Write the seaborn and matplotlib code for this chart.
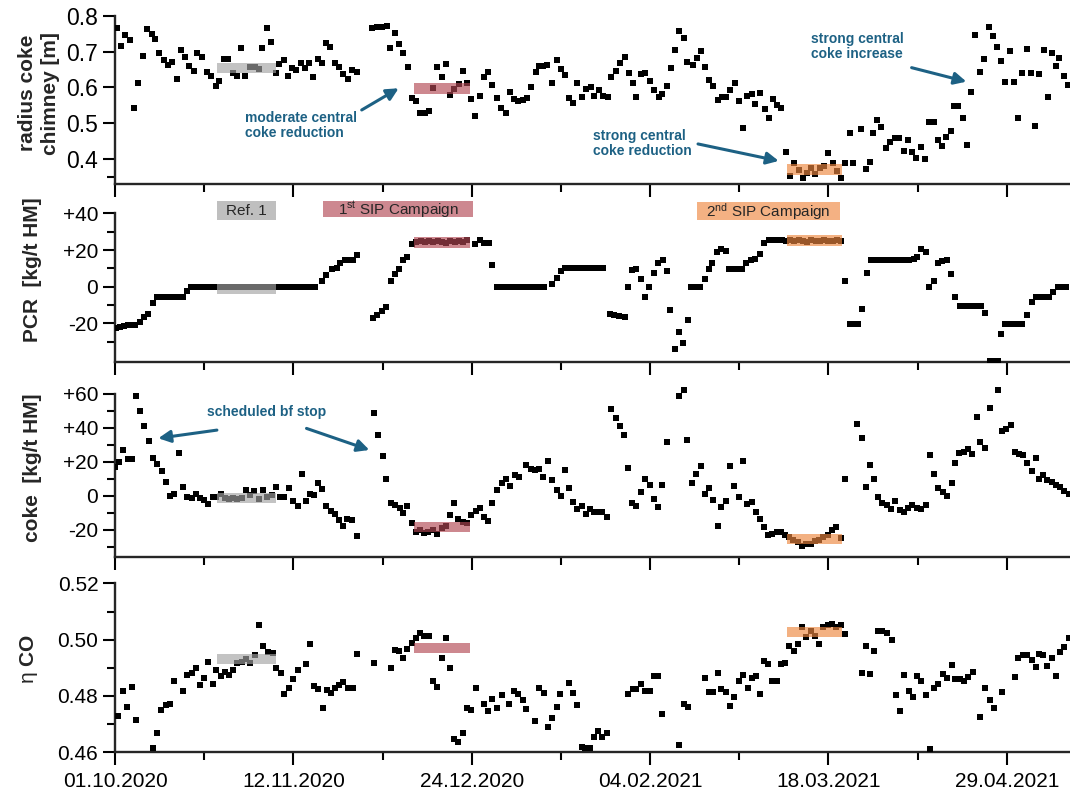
import numpy as np
import pandas as pd
import matplotlib
matplotlib.use("Agg")
import matplotlib.pyplot as plt
import matplotlib.dates as mdates
from matplotlib.patches import Rectangle
from matplotlib.ticker import FixedLocator, FuncFormatter
import seaborn as sns

START = pd.Timestamp("2020-10-01")

# (day since 01.10.2020, value) pairs, one per daily mean
RADIUS = [
    (0.4, .765), (1.5, .716), (2.4, .746), (3.5, .732), (4.5, .542), (5.5, .613), (6.5, .688), (7.5, .762),
    (8.6, .748), (9.5, .734), (10.4, .695), (11.5, .677), (12.5, .663), (13.5, .672), (14.5, .624), (15.5, .704),
    (16.5, .686), (17.5, .660), (18.6, .646), (19.4, .695), (20.6, .684), (21.6, .644), (22.6, .632), (23.7, .604),
    (24.6, .619), (25.7, .678), (26.7, .678), (27.7, .639), (28.7, .632), (29.6, .709), (30.7, .632), (31.8, .658),
    (32.9, .656), (33.8, .651), (34.7, .709), (35.7, .765), (36.7, .728), (37.8, .641), (38.7, .665), (39.7, .677),
    (40.7, .632), (41.7, .653), (42.7, .649), (43.7, .667), (44.7, .653), (45.7, .669), (46.7, .630), (47.7, .678),
    (48.7, .667), (49.8, .725), (50.7, .714), (51.8, .669), (52.8, .656), (53.8, .638), (54.8, .623), (55.9, .649),
    (56.9, .644),
    (60.6, .766), (61.7, .768), (62.9, .769), (64.0, .772), (64.8, .709), (65.9, .751), (66.9, .721), (67.9, .695),
    (68.9, .658), (69.9, .570), (70.9, .561), (71.9, .528), (73.0, .530), (74.0, .535), (74.9, .598), (75.9, .658),
    (76.9, .630), (77.9, .665), (78.9, .579), (79.9, .595), (81.0, .609), (82.0, .647), (82.9, .612), (83.8, .567),
    (84.8, .521), (85.9, .576), (86.9, .628), (87.9, .644), (88.9, .607), (90.0, .570), (90.9, .542), (92.0, .528),
    (93.0, .588), (94.0, .567), (95.0, .561), (96.1, .565), (97.1, .570), (98.0, .602), (99.1, .644), (99.9, .660),
    (100.9, .660), (101.8, .662), (103.0, .613), (104.0, .677), (105.0, .651), (106.0, .635), (106.9, .570),
    (107.9, .558), (108.9, .613), (109.9, .573), (110.9, .595), (112.0, .602), (112.9, .576), (113.9, .593),
    (114.9, .576), (116.0, .573), (116.9, .628), (118.0, .647), (119.0, .667), (120.0, .686), (121.0, .639),
    (121.9, .613), (122.8, .573), (123.8, .638), (124.9, .639), (125.9, .619), (126.9, .593), (128.0, .574),
    (128.9, .581), (130.0, .604), (131.0, .655), (131.9, .704), (132.9, .757), (134.0, .739), (134.8, .672),
    (136.0, .663), (137.0, .681), (137.9, .702), (138.9, .658), (139.9, .621), (140.9, .604), (141.9, .565),
    (143.0, .574), (144.0, .573), (144.9, .593), (146.0, .613), (146.9, .563), (148.0, .486), (148.8, .576),
    (149.9, .581), (150.8, .554), (151.9, .584), (153.0, .539), (153.9, .516), (154.9, .567), (155.9, .551),
    (156.9, .542), (158.0, .421), (159.0, .354), (160.0, .389), (161.0, .370), (162.0, .347), (163.0, .361),
    (164.0, .375), (164.8, .359), (166.0, .375), (167.0, .382), (167.9, .416), (169.0, .389), (170.1, .366),
    (171.0, .347), (172.0, .389), (173.0, .472), (173.9, .389), (175.7, .484), (176.8, .372), (177.7, .391),
    (178.5, .472), (179.5, .508), (180.5, .489), (181.6, .432), (182.6, .449), (183.6, .458), (184.7, .458),
    (185.7, .424), (186.7, .455), (187.7, .419), (188.6, .403), (189.7, .435), (190.8, .400), (191.6, .505),
    (192.8, .505), (193.8, .454), (194.8, .437), (195.8, .463), (196.8, .480), (197.6, .547), (198.6, .548),
    (199.6, .516), (200.7, .440), (201.7, .586), (202.6, .746), (203.7, .644), (204.7, .678), (205.8, .769),
    (206.8, .743), (207.6, .714), (208.6, .675), (209.6, .616), (210.8, .703), (211.7, .616), (212.6, .514),
    (213.7, .641), (214.7, .706), (215.7, .639), (216.7, .493), (217.7, .638), (218.7, .704), (219.8, .574),
    (220.7, .697), (221.5, .660), (222.4, .681), (223.5, .632), (224.4, .607),
]

PCR = [
    (0.3, -22.5), (1.2, -22.0), (2.1, -21.3), (3.0, -20.9), (3.9, -20.7), (4.8, -20.9), (5.9, -19.1), (6.8, -16.7),
    (7.8, -14.9), (9.0, -8.7), (10, -5.5), (11, -5.5), (12, -5.5), (13, -5.5), (14, -5.5), (15, -5.5), (16, -5.5),
    (17.0, -2.4), (18, 0), (19, 0), (20, 0), (21, 0), (22, 0), (23, 0), (24, 0), (25, 0), (26, 0), (27, 0), (28, 0),
    (29, 0), (30, 0), (31, 0), (32, 0), (33, 0), (34, 0), (35, 0), (36, 0), (37, 0), (38, 0), (39, 0), (40, 0),
    (41, 0), (42, 0), (43, 0), (44, 0), (45, 0), (46, 0), (47, 0),
    (48.7, 3.3), (49.8, 6.4), (51.0, 9.6), (52.2, 10.0), (53.0, 13.1), (54.2, 14.5), (55.2, 14.5), (56.1, 14.5),
    (57.1, 17.3),
    (60.8, -17.3), (61.8, -15.5), (62.8, -13.3), (63.8, -11.3), (64.9, 3.3), (65.9, 6.9), (66.9, 9.5), (67.9, 14.5),
    (68.8, 16.0), (69.9, 23.3), (71, 24.5), (72, 25.0), (73, 24.5), (74, 25.0), (75, 24.2), (76, 25.0), (77, 24.5),
    (78, 24.0), (79, 25.0), (80, 24.2), (81, 25.0), (82, 24.5), (83, 25.5), (84.8, 23.3), (86.0, 25.5), (87.0, 24.0),
    (88.0, 24.0), (88.9, 11.8),
    (90, 0), (91, 0), (92, 0), (93, 0), (94, 0), (95, 0), (96, 0), (97, 0), (98, 0), (99, 0), (100, 0), (101, 0),
    (102.9, 1.5), (104.0, 4.5), (105.0, 8.7), (106, 10.0), (107, 10.0), (108, 10.0), (109, 10.0), (110, 10.0),
    (111, 10.0), (112, 10.0), (113, 10.0), (114, 10.0), (115, 10.0),
    (116.6, -15.1), (117.6, -15.5), (118.8, -16.0), (120.0, -16.4), (120.7, 0.0), (121.7, 9.1), (122.8, 9.5),
    (123.9, 4.2), (124.8, -5.5), (125.8, -0.4), (126.9, 7.3), (127.9, 12.7), (129.0, 14.5), (130.0, 8.7),
    (130.8, -12.7), (131.9, -34.2), (132.9, -24.5), (133.8, -30.5), (134.9, -18.2), (135.7, 0), (136.8, 0),
    (137.8, 0), (138.9, 4.4), (139.9, 9.5), (140.7, 13.1), (141.8, 19.1), (142.8, 20.4), (143.8, 19.6),
    (144.7, 9.5), (145.7, 9.5), (146.7, 9.5), (147.7, 9.5), (148.7, 13.1), (149.8, 14.5), (150.8, 14.9),
    (151.9, 17.8), (152.9, 23.6), (154, 25.5), (155, 25.5), (156, 25.5), (157, 25.5),
    (158, 25.0), (159, 25.5), (160, 24.8), (161, 25.2), (162, 25.0), (163, 24.6), (164, 25.3), (165, 25.0),
    (166, 24.8), (167, 25.4), (168, 25.0), (169, 24.7), (170, 25.2), (171, 25.0),
    (172.0, 3.1), (173.0, -20.4), (174.0, -20.4), (175.0, -20.4), (175.8, -12.4), (177.0, 7.6),
    (178, 14.5), (179, 14.5), (180, 14.5), (181, 14.5), (182, 14.5), (183, 14.5), (184, 14.5), (185, 14.5),
    (186, 14.5), (187, 14.5), (188.2, 15.2), (188.9, 16.4), (189.9, 20.4), (191.0, 19.1), (191.8, 0.0),
    (192.9, 3.3), (193.8, 12.7), (194.8, 14.2), (195.9, 14.5), (196.9, 6.7), (197.9, -5.5), (199, -10.5),
    (200, -10.5), (201, -10.5), (202, -10.5), (203, -10.5), (204, -10.5), (204.9, -14.5), (206, -40.4),
    (207, -40.4), (208, -40.4), (208.7, -25.5), (209.7, -20.4), (210.7, -20.4), (211.7, -20.4), (212.7, -20.4),
    (213.7, -20.4), (214.8, -15.5), (215.9, -8.2), (217, -5.5), (218, -5.5), (219, -5.5), (220, -5.5),
    (221.0, -2.7), (222, 0), (223, 0), (224, 0),
]

COKE = [
    (0.0, 16.6), (1.0, 19.9), (2.0, 27.1), (3.0, 21.5), (4.1, 21.5), (4.9, 58.9), (5.9, 49.6), (6.9, 40.8),
    (8.0, 32.0), (9.0, 22.4), (10.0, 18.9), (11.0, 14.6), (11.9, 8.2), (13.0, 0.0), (13.9, 0.8), (15.0, 25.4),
    (15.9, 5.3), (17.0, -0.6), (18.1, -1.2), (19.0, 0.8), (19.9, -1.2), (21.0, -2.5), (22.0, -4.9), (23.0, -0.6),
    (23.9, -0.6), (24.9, 0.8), (25.9, -1.2), (26.9, -2.1), (27.9, -1.2), (28.8, -2.1), (29.8, -1.2), (30.8, 3.3),
    (31.8, 0.4), (32.8, 2.7), (33.8, -2.1), (34.8, 3.3), (35.7, -0.6), (36.9, 0.4), (37.9, 5.3), (38.9, -0.6),
    (39.9, -0.6), (40.9, 4.7), (42.0, -3.1), (43.0, -5.9), (44.0, 12.7), (45.0, -3.1), (45.9, 0.8), (46.9, 0.4),
    (47.9, 7.6), (48.8, 3.7), (49.8, -6.0), (50.9, -8.8), (51.8, -10.9), (52.8, -14.6), (53.8, -18.1),
    (54.7, -13.9), (55.9, -14.6), (56.9, -23.6),
    (61.0, 48.8), (62.0, 35.5), (63.0, 23.2), (63.8, 10.1), (64.9, -4.5), (65.9, -5.5), (67.0, -7.4),
    (67.9, -10.3), (68.8, -6.0), (70.0, -16.2), (70.9, -21.1), (71.8, -20.1), (72.8, -22.0), (73.8, -21.1),
    (74.8, -20.1), (75.9, -22.4), (76.9, -19.1), (77.9, -18.1), (78.9, -11.3), (79.9, -4.1), (80.8, -13.9),
    (81.9, -15.2), (82.8, -16.2), (83.8, -11.3), (84.9, -8.8), (86.0, -7.4), (86.9, -12.7), (87.9, -14.8),
    (88.9, -4.1), (90.0, 3.3), (91.1, 7.6), (92.0, 9.8), (93.0, 5.7), (94.2, 12.1), (95.2, 11.1),
    (96.9, 18.0), (97.9, 16.0), (98.9, 15.0), (99.9, 16.0), (100.8, 11.1), (101.9, 20.3), (103.0, 9.2),
    (104.0, 3.3), (105.0, -0.2), (105.9, 15.4), (106.9, 4.7), (107.9, -3.9), (108.9, -7.8), (109.9, -5.9),
    (110.9, -10.7), (111.8, -7.8), (112.8, -9.4), (113.8, -9.4), (114.8, -9.4), (115.9, -12.3), (116.8, 51.1),
    (118.0, 45.7), (118.9, 40.8), (119.9, 35.5), (120.9, 16.4), (121.8, -4.1), (122.8, -5.9), (123.8, 2.3),
    (124.9, 9.6), (126.0, 6.2), (126.9, -2.1), (127.9, -6.4), (128.9, 6.2), (129.9, 31.6), (132.9, 58.9),
    (134.0, 62.2), (134.8, 32.6), (135.8, 7.6), (136.9, 12.5), (137.9, 17.4), (138.9, 1.0), (140.0, 4.7),
    (140.9, -2.5), (141.9, -18.1), (142.8, -6.8), (143.9, -3.1), (144.8, 17.6), (145.8, 5.7), (146.9, -0.6),
    (147.9, 20.3), (148.9, -4.9), (149.9, -3.9), (150.9, -9.4), (151.9, -13.9), (152.9, -18.5), (153.8, -23.4),
    (154.8, -22.4), (155.8, -21.1), (156.8, -21.1), (157.9, -23.0), (158.8, -24.4), (159.7, -26.0),
    (160.9, -27.5), (161.9, -29.5), (162.8, -28.3), (163.9, -28.3), (164.8, -26.9), (165.8, -26.0),
    (166.8, -24.4), (167.8, -23.0), (168.9, -20.1), (169.9, -18.7), (170.9, -25.0), (172.0, 9.6), (174.8, 42.0),
    (175.8, 34.1), (176.8, 4.9), (177.8, 18.0), (178.8, 9.6), (179.7, -1.0), (180.7, -4.5), (181.7, -5.5),
    (182.7, -8.0), (183.8, -2.9), (184.8, -8.4), (185.8, -9.4), (186.8, -7.4), (187.8, -5.5), (188.8, -7.4),
    (189.9, -7.8), (190.9, -5.5), (191.9, 24.2), (192.9, 12.5), (193.9, 4.7), (194.9, 2.3), (196.0, 0.0),
    (197.0, 7.2), (197.9, 19.3), (198.8, 25.4), (199.9, 25.8), (200.9, 27.7), (201.9, 24.8), (202.9, 46.6),
    (203.8, 31.6), (204.8, 28.1), (206.0, 51.7), (207.9, 62.2), (208.8, 37.9), (209.8, 39.4), (210.9, 41.8),
    (211.9, 25.8), (212.8, 24.4), (213.9, 23.8), (214.8, 19.5), (216.0, 14.6), (216.9, 21.9), (217.6, 9.6),
    (218.6, 12.0), (219.6, 9.0), (220.6, 8.0), (221.6, 6.0), (222.6, 5.0), (223.6, 3.0), (224.6, 1.0),
]

ETA_CO = [
    (0.8, .4729), (2.0, .4818), (2.9, .4761), (3.9, .4832), (4.9, .4715), (9.0, .4614), (10.0, .4668),
    (10.8, .4751), (11.9, .4768), (13.0, .4773), (13.9, .4855), (15.9, .4818), (17.0, .4873), (18.1, .4882),
    (19.0, .4900), (19.9, .4838), (21.0, .4865), (22.0, .4921), (23.0, .4841), (23.9, .4894), (24.9, .4871),
    (25.9, .4886), (26.9, .4874), (27.9, .4891), (28.8, .4918), (29.8, .4921), (30.8, .4933), (31.8, .4918),
    (33.0, .4947), (33.9, .5053), (34.9, .4976), (36.1, .4956), (37.1, .4953), (37.9, .4900), (39.0, .4882),
    (39.9, .4808), (40.9, .4827), (42.0, .4861), (43.0, .4892), (45.0, .4912), (45.9, .4985), (46.9, .4835),
    (47.9, .4826), (48.9, .4756), (50.0, .4820), (50.9, .4812), (51.8, .4827), (52.8, .4839), (53.8, .4851),
    (54.9, .4827), (56.0, .4827), (56.9, .4949), (61.0, .4918), (64.9, .4898), (65.9, .4965), (66.9, .4959),
    (67.9, .4935), (68.8, .4968), (69.9, .4988), (70.9, .5006), (71.8, .5024), (72.8, .5012), (73.9, .5012),
    (74.8, .4855), (75.9, .4832), (76.9, .4935), (77.9, .5006), (78.9, .4898), (79.9, .4649), (80.8, .4635),
    (81.9, .4667), (82.8, .4756), (83.8, .4749), (84.9, .4827), (86.9, .4771), (87.9, .4745), (88.9, .4788),
    (90.0, .4759), (91.1, .4804), (92.8, .4771), (94.0, .4816), (95.0, .4806), (96.0, .4785), (96.9, .4753),
    (98.9, .4712), (99.9, .4829), (101.0, .4812), (101.9, .4691), (103.0, .4721), (104.0, .4762), (104.9, .4808),
    (106.9, .4847), (107.9, .4812), (108.9, .4768), (109.9, .4620), (110.8, .4617), (111.8, .4614),
    (112.8, .4653), (113.8, .4676), (114.8, .4653), (115.9, .4668), (120.9, .4808), (121.9, .4824),
    (122.8, .4826), (123.9, .4841), (124.8, .4818), (126.0, .4818), (127.0, .4871), (127.9, .4871),
    (128.9, .4735), (132.9, .4626), (134.0, .4771), (135.0, .4761), (138.9, .4865), (139.9, .4815),
    (140.9, .4815), (141.9, .4882), (142.8, .4824), (143.9, .4815), (144.8, .4765), (145.8, .4796),
    (146.9, .4855), (147.9, .4874), (149.0, .4827), (149.9, .4865), (150.9, .4871), (151.9, .4808),
    (152.9, .4926), (153.8, .4912), (154.8, .4855), (155.8, .4855), (156.8, .4912), (157.9, .4918),
    (158.8, .4976), (159.9, .4961), (160.9, .4985), (161.9, .5044), (162.8, .5008), (163.9, .5032),
    (164.8, .5012), (165.8, .4985), (166.8, .5044), (167.8, .5051), (168.9, .5055), (169.9, .5044),
    (170.9, .5053), (172.0, .5020), (175.8, .4882), (176.8, .4976), (177.8, .4879), (178.8, .4961),
    (179.7, .5032), (180.7, .5032), (181.7, .5024), (182.9, .5000), (183.9, .4804), (184.8, .4745),
    (185.8, .4876), (186.9, .4818), (187.9, .4796), (188.8, .4871), (189.9, .4855), (190.9, .4804),
    (191.9, .4612), (192.9, .4827), (193.9, .4841), (194.9, .4879), (196.0, .4865), (197.0, .4909),
    (197.9, .4859), (198.9, .4859), (199.9, .4855), (200.9, .4867), (202.0, .4886), (203.8, .4724),
    (204.8, .4827), (206.0, .4785), (206.9, .4756), (208.8, .4814), (211.9, .4867), (212.7, .4935),
    (213.9, .4945), (214.8, .4945), (216.0, .4929), (216.9, .4904), (217.6, .4949), (218.6, .4945),
    (219.6, .4905), (220.6, .4935), (221.6, .4870), (222.6, .4955), (223.6, .4975), (224.6, .5005),
]

# evaluation windows (day offsets) and the value band marked in each panel
WINDOWS = {"ref": (24.0, 38.0), "sip1": (70.5, 83.5), "sip2": (158.3, 171.3)}
BANDS = {
    "radius": {"ref": (.640, .667), "sip1": (.582, .612), "sip2": (.356, .386)},
    "pcr": {"ref": (-4.2, 1.3), "sip1": (20.9, 26.9), "sip2": (22.3, 28.2)},
    "coke": {"ref": (-4.1, 1.8), "sip1": (-21.6, -15.5), "sip2": (-28.2, -22.4)},
    "eta": {"ref": (.4915, .4950), "sip1": (.4952, .4988), "sip2": (.5010, .5045)},
}
BAND_COLORS = {"ref": "#a3a3a3", "sip1": "#b24854", "sip2": "#ee8740"}
BOX_COLORS = {"ref": "#bfbfbf", "sip1": "#cd8890", "sip2": "#f4b183"}
TEAL = "#1d6184"

sns.set_style("ticks")
plt.rcParams["font.family"] = ["Liberation Sans", "DejaVu Sans"]
plt.rcParams["mathtext.fontset"] = "custom"
plt.rcParams["mathtext.rm"] = "Liberation Sans"
plt.rcParams["mathtext.it"] = "Liberation Sans"
plt.rcParams["mathtext.bf"] = "Liberation Sans:bold"

W, H = 1070, 799
fig = plt.figure(figsize=(W / 100, H / 100), dpi=100)


def t(day):
    return mdates.date2num(START + pd.Timedelta(days=day))


def make_axes(top_px, bottom_px):
    left = 115 / W
    ax = fig.add_axes([left, 1 - bottom_px / H, 1 - left, (bottom_px - top_px) / H])
    ax.patch.set_visible(False)
    return ax


# key, data, pixel span, y-limits, top of the y spine, label, label anchor (axes coords), line spacing
panels = [
    ("radius", RADIUS, (15.7, 184.0), (0.331, 0.80), 0.80, "radius coke\nchimney [m]", (-0.058, 0.54), 1.25),
    ("pcr", PCR, (184.0, 362.3), (-41.2, 56.0), 40, "PCR  [kg/t HM]", (-0.0764, 0.52), 1.0),
    ("coke", COKE, (362.3, 557.2), (-36.2, 78.5), 60, "coke  [kg/t HM]", (-0.0764, 0.458), 1.0),
    ("eta", ETA_CO, (557.2, 752.3), (0.46, 0.5293), 0.52, r"$\eta\ \mathbf{CO}$", (-0.0785, 0.478), 1.0),
]

axes = {}
for key, data, (top_px, bot_px), ylim, ytop, ylabel, label_xy, lsp in panels:
    ax = make_axes(top_px, bot_px)
    axes[key] = ax
    frame = pd.DataFrame(data, columns=["day", "value"])
    frame["date"] = START + pd.to_timedelta(frame["day"], unit="D")
    sns.scatterplot(data=frame, x="date", y="value", ax=ax, marker="s", s=13,
                    color="black", linewidth=0, zorder=3)
    for win, (d0, d1) in WINDOWS.items():
        y0, y1 = BANDS[key][win]
        ax.add_patch(Rectangle((t(d0), y0), t(d1) - t(d0), y1 - y0,
                               facecolor=BAND_COLORS[win], alpha=0.65,
                               edgecolor="none", zorder=4))
    ax.set_xlim(t(0), t(224.9))
    ax.set_ylim(*ylim)
    ax.set_xlabel("")
    weight = "normal" if key == "eta" else "bold"
    ax.set_ylabel(ylabel, fontsize=15, fontweight=weight, linespacing=lsp)
    ax.yaxis.set_label_coords(*label_xy)

    ax.xaxis.set_major_locator(FixedLocator([t(d) for d in (0, 42, 84, 126, 168, 210)]))
    ax.xaxis.set_minor_locator(FixedLocator([t(d) for d in (21, 63, 105, 147, 189)]))
    ax.xaxis.set_major_formatter(mdates.DateFormatter("%d.%m.%Y"))

    for side in ("top", "right"):
        ax.spines[side].set_visible(False)
    for side in ("left", "bottom"):
        ax.spines[side].set_linewidth(1.7)
    ax.spines["left"].set_bounds(ylim[0], ytop)

    ax.tick_params(which="major", direction="out", length=9, width=1.5, colors="black")
    ax.tick_params(which="minor", direction="out", length=5.5, width=1.5, colors="black")
    ax.tick_params(axis="y", which="major", labelsize=15, pad=3)
    ax.tick_params(axis="x", which="major", labelsize=15, pad=5)
    ax.tick_params(axis="x", labelbottom=(key == "eta"))

rad = axes["radius"]
rad.yaxis.set_major_locator(FixedLocator([0.4, 0.5, 0.6, 0.7, 0.8]))
rad.yaxis.set_minor_locator(FixedLocator([0.35]))
rad.yaxis.set_major_formatter(FuncFormatter(lambda v, p: f"{v:.1f}"))
rad.tick_params(axis="y", which="major", labelsize=16.5)

signed = FuncFormatter(lambda v, p: f"+{v:.0f}" if v > 0 else f"{v:.0f}")
pcr = axes["pcr"]
pcr.yaxis.set_major_locator(FixedLocator([-20, 0, 20, 40]))
pcr.yaxis.set_minor_locator(FixedLocator([-30, -10, 10, 30]))
pcr.yaxis.set_major_formatter(signed)

coke = axes["coke"]
coke.yaxis.set_major_locator(FixedLocator([-20, 0, 20, 40, 60]))
coke.yaxis.set_minor_locator(FixedLocator([-30, -10, 10, 30, 50]))
coke.yaxis.set_major_formatter(signed)

eta = axes["eta"]
eta.yaxis.set_major_locator(FixedLocator([0.46, 0.48, 0.50, 0.52]))
eta.yaxis.set_minor_locator(FixedLocator([0.47, 0.49, 0.51]))
eta.yaxis.set_major_formatter(FuncFormatter(lambda v, p: f"{v:.2f}"))

# campaign labels above the PCR series
boxes = [
    ("ref", "Ref. 1", (24.0, 38.0), (36.3, 46.7)),
    ("sip1", r"1$^{\mathrm{st}}$ SIP Campaign", (48.9, 84.4), (37.8, 46.7)),
    ("sip2", r"2$^{\mathrm{nd}}$ SIP Campaign", (137.0, 170.7), (36.6, 46.2)),
]
for win, label, (d0, d1), (y0, y1) in boxes:
    pcr.add_patch(Rectangle((t(d0), y0), t(d1) - t(d0), y1 - y0,
                            facecolor=BOX_COLORS[win], edgecolor="none", zorder=2))
    pcr.text((t(d0) + t(d1)) / 2, (y0 + y1) / 2 - 0.3, label, fontsize=11,
             ha="center", va="center", zorder=5)

arrow = dict(arrowstyle="-|>", mutation_scale=18, lw=2.2, color=TEAL,
             shrinkA=0, shrinkB=0)
note = dict(color=TEAL, fontsize=10, fontweight="bold", linespacing=1.1, zorder=6)

rad.text(t(30.5), 0.4933, "moderate central\ncoke reduction", ha="left", va="center", **note)
rad.annotate("", xy=(t(66.8), 0.5978), xytext=(t(58.1), 0.5373), arrowprops=arrow)

rad.text(t(112.5), 0.4429, "strong central\ncoke reduction", ha="left", va="center", **note)
rad.annotate("", xy=(t(156.3), 0.3953), xytext=(t(137.3), 0.4426), arrowprops=arrow)

rad.text(t(163.8), 0.7136, "strong central\ncoke increase", ha="left", va="center", **note)
rad.annotate("", xy=(t(200.5), 0.6162), xytext=(t(187.6), 0.6552), arrowprops=arrow)

coke.text(t(35.7), 49.1, "scheduled bf stop", ha="center", va="center", **note)
coke.annotate("", xy=(t(10.2), 33.8), xytext=(t(24.0), 38.6), arrowprops=arrow)
coke.annotate("", xy=(t(59.9), 26.9), xytext=(t(45.1), 39.6), arrowprops=arrow)

fig.savefig("out.png", dpi=100)
